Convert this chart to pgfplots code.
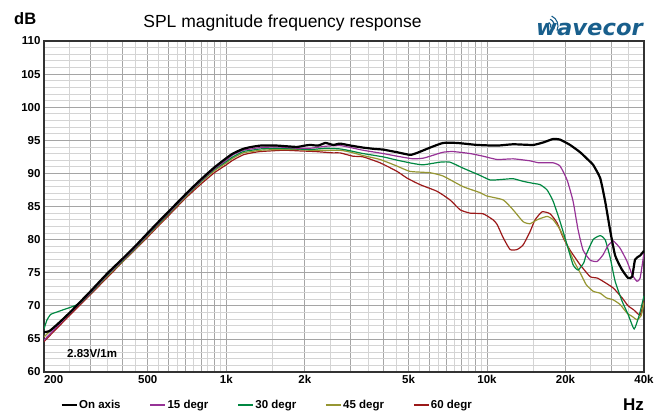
\documentclass[border=0pt]{standalone}
\usepackage{fontspec}
\setmainfont{Liberation Sans}
\newfontfamily\logofont{DejaVu Sans}
\usepackage{graphicx}
\usepackage{pgfplots}
\pgfplotsset{compat=1.18}
\definecolor{cpurple}{RGB}{150,50,150}
\definecolor{cgreen}{RGB}{0,135,65}
\definecolor{colive}{RGB}{150,150,50}
\definecolor{cred}{RGB}{155,25,25}
\definecolor{logoblue}{RGB}{25,95,140}
\definecolor{gridmajor}{RGB}{165,165,165}
\definecolor{gridlight}{RGB}{212,212,212}
\begin{document}
\begin{tikzpicture}
\begin{axis}[
  scale only axis, width=600pt, height=331pt,
  xmode=log, xmin=200, xmax=40000, ymin=60, ymax=110,
  xtick={200,300,400,500,600,700,800,900,1000,2000,3000,4000,5000,6000,7000,8000,9000,10000,20000,30000,40000},
  xticklabels={\makebox[0pt][l]{200},,,500,,,,,1k,2k,,,5k,,,,,10k,20k,,40k},
  minor xtick={250,350,450,550,650,750,850,950,1500,2500,3500,4500,5500,6500,7500,8500,9500,15000,25000,35000},
  ytick={60,65,...,110},
  minor y tick num=4,
  grid=both,
  major grid style={gridmajor, line width=0.8pt},
  minor grid style={gridlight, line width=0.8pt},
  major tick length=0pt, minor tick length=0pt,
  axis line style={black!80, line width=1.3pt},
  /pgf/number format/assume math mode=true,
  ticklabel style={font=\fontsize{11.5}{12}\selectfont\bfseries},
  legend columns=5,
  legend style={at={(axis description cs:0.027,-0.1)}, anchor=west, draw=none, fill=none, inner sep=0pt,
    font=\fontsize{11.5}{13}\selectfont\bfseries,
    nodes={inner xsep=1.5pt},
    /tikz/every even column/.append style={column sep=27.5pt}},
  legend image code/.code={\draw[#1] (0pt,0pt) -- (15pt,0pt);},
]
\addlegendimage{black, line width=2.2pt}
\addlegendentry{On axis}
\addlegendimage{cpurple, line width=1.4pt}
\addlegendentry{15 degr}
\addlegendimage{cgreen, line width=1.4pt}
\addlegendentry{30 degr}
\addlegendimage{colive, line width=1.4pt}
\addlegendentry{45 degr}
\addlegendimage{cred, line width=1.4pt}
\addlegendentry{60 degr}

% 60 degr
\addplot[forget plot, cred, line width=1.2pt, smooth, tension=0.3] coordinates {
(200,64.6)(250,68.5)(300,71.6)(350,74.3)(400,76.6)(450,78.6)(500,80.4)(550,82.1)(600,83.6)(700,86.3)(800,88.4)(900,90.1)(1000,91.3)(1060,92.0)(1160,92.8)(1250,93.1)(1350,93.3)(1660,93.5)(1910,93.4)(2200,93.3)(2570,93.1)(2732,93.1)(3060,92.6)(3346,92.5)(3890,91.6)(4520,90.3)(4930,89.3)(5536,88.3)(6430,87.3)(7210,86.0)(7890,84.5)(8610,84.0)(9660,83.9)(10540,83.0)(10930,82.3)(11530,80.3)(12260,78.5)(13040,78.5)(13760,79.2)(14620,81.2)(15290,83.0)(16270,84.2)(17460,83.9)(18580,82.5)(19590,80.3)(20820,78.4)(22750,76.2)(24870,74.4)(26440,74.2)(27860,73.7)(30460,72.7)(32960,71.2)(34760,70.0)(36500,69.4)(38660,68.6)(40000,70.8)
};
% 45 degr
\addplot[forget plot, colive, line width=1.2pt, smooth, tension=0.3] coordinates {
(200,65.3)(230,67.6)(270,70.1)(300,71.8)(350,74.5)(400,76.7)(450,78.7)(500,80.6)(550,82.3)(600,83.8)(700,86.5)(800,88.7)(900,90.4)(1000,91.6)(1060,92.3)(1160,93.1)(1250,93.3)(1350,93.5)(1570,93.6)(1870,93.6)(2100,93.5)(2400,93.5)(2732,93.5)(3000,93.2)(3346,92.7)(3890,92.1)(4520,91.1)(5070,90.3)(6050,90.1)(6787,89.6)(8090,88.0)(9400,87.1)(9950,86.6)(11530,86.0)(12590,84.5)(13760,82.7)(14620,82.4)(15570,83.0)(17000,83.5)(17930,83.0)(19070,81.5)(20280,79.2)(21380,77.0)(22750,75.0)(24000,73.2)(25520,72.2)(27160,71.9)(28700,71.2)(30460,70.9)(32380,70.2)(34440,68.9)(36020,68.4)(37600,67.9)(39000,68.5)(40000,70.5)
};
% 30 degr
\addplot[forget plot, cgreen, line width=1.2pt, smooth, tension=0.3] coordinates {
(200,66.5)(205,67.8)(212,68.7)(222,69.0)(237,69.4)(258,69.9)(275,70.4)(300,71.8)(350,74.6)(400,76.8)(450,78.8)(500,80.7)(550,82.4)(600,83.9)(700,86.6)(800,88.8)(900,90.6)(1000,91.8)(1060,92.5)(1160,93.3)(1250,93.5)(1350,93.7)(1570,93.8)(1870,93.7)(2100,93.6)(2400,93.8)(2732,93.7)(3000,93.4)(3346,93.0)(3994,92.5)(4520,92.0)(5206,91.5)(5690,91.3)(6607,91.7)(7210,91.7)(8090,90.8)(9400,89.7)(10300,89.0)(11500,89.1)(12590,89.2)(13760,88.8)(15020,88.5)(15990,88.3)(17000,87.5)(17930,85.8)(19070,82.7)(20280,79.2)(21380,76.2)(22340,75.4)(23500,76.5)(24000,77.7)(25520,80.0)(27160,80.6)(28380,80.0)(29660,77.3)(31000,73.7)(32960,70.7)(34760,68.7)(36660,66.5)(38300,68.5)(40000,71.5)
};
% 15 degr
\addplot[forget plot, cpurple, line width=1.2pt, smooth, tension=0.3] coordinates {
(200,64.8)(250,68.8)(300,71.9)(350,74.7)(400,76.9)(450,78.9)(500,80.8)(550,82.5)(600,84.0)(700,86.7)(800,88.9)(900,90.7)(1000,92.0)(1060,92.8)(1160,93.5)(1250,93.7)(1350,93.9)(1570,94.0)(1870,93.8)(2100,93.8)(2400,94.1)(2732,94.2)(3000,93.9)(3346,93.5)(3994,93.0)(4520,92.6)(5206,92.2)(5690,92.3)(6050,92.6)(6787,93.2)(7410,93.3)(8610,93.0)(9660,92.6)(10930,92.1)(12590,92.2)(14620,91.9)(15800,91.6)(17930,91.6)(19070,91.1)(20280,89.0)(21380,85.8)(22340,81.5)(23360,78.4)(24870,76.9)(26440,76.7)(27860,77.7)(29000,79.0)(30460,79.8)(32380,78.7)(34440,76.7)(36020,74.7)(37600,73.7)(38660,74.2)(40000,78.0)
};
% On axis
\addplot[forget plot, black, line width=2.2pt, smooth, tension=0.3] coordinates {
(200,66.0)(210,66.2)(225,67.2)(250,68.9)(300,72.1)(350,74.9)(400,77.1)(450,79.1)(500,81.0)(550,82.7)(600,84.2)(700,86.9)(800,89.1)(900,90.9)(1000,92.3)(1060,93.0)(1160,93.7)(1250,94.0)(1350,94.2)(1450,94.2)(1570,94.2)(1700,94.1)(1870,94.0)(2000,94.2)(2100,94.3)(2250,94.2)(2400,94.6)(2570,94.3)(2732,94.5)(3000,94.2)(3346,93.9)(3700,93.7)(3994,93.6)(4250,93.4)(4520,93.2)(5070,92.8)(5394,93.1)(6050,93.9)(6787,94.6)(7680,94.6)(9160,94.3)(10930,94.2)(12590,94.4)(15020,94.3)(16500,94.7)(17930,95.2)(19070,95.1)(20820,94.3)(22750,93.2)(24500,92.0)(25520,91.3)(27160,89.3)(28380,85.8)(29660,81.4)(31000,77.6)(32880,75.5)(34760,74.2)(36020,74.4)(36980,77.0)(38660,77.6)(40000,78.3)
};
\end{axis}
\node[anchor=base, inner sep=0pt, font=\fontsize{17.5}{20}\selectfont] at (238.5pt,344.3pt) {SPL magnitude frequency response};
\node[anchor=base west, inner sep=0pt, font=\fontsize{16.5}{18}\selectfont\bfseries] at (-30pt,347pt) {dB};
\node[anchor=base east, inner sep=0pt, font=\fontsize{17}{19}\selectfont\bfseries] at (600pt,-38pt) {Hz};
\node[anchor=base west, inner sep=0pt, font=\fontsize{11.5}{13}\selectfont\bfseries] at (23pt,15pt) {2.83V/1m};
\node[anchor=base west, inner sep=0pt, text=logoblue, font=\logofont\bfseries\itshape\fontsize{22}{24}\selectfont] at (492pt,336.5pt) {\scalebox{1.03}[1]{wavecor}};
\foreach \r in {4,7.5,11} {
  \draw[logoblue, line width=1.1pt] (503pt,346pt) ++(-25:\r pt) arc(-25:65:\r pt);
}
\path[use as bounding box] (-44pt,-41pt) rectangle (618pt,372pt);
\end{tikzpicture}
\end{document}
